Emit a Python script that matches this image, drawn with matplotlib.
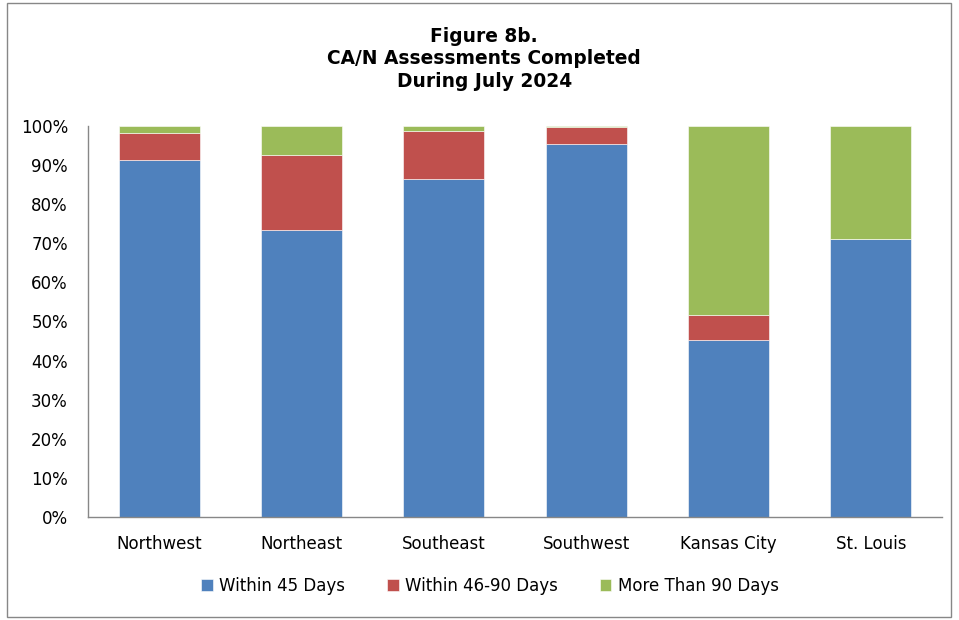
import matplotlib.pyplot as plt
import numpy as np
from matplotlib.patches import Rectangle

# percentages
regions = ['Northwest', 'Northeast', 'Southeast', 'Southwest', 'Kansas City', 'St. Louis']
within_45 = [91.3, 73.5, 86.4, 95.3, 45.2, 71.0]
within_46_90 = [6.9, 19.0, 12.3, 4.5, 6.5, 0.0]
over_90 = [1.8, 7.5, 1.3, 0.2, 48.3, 29.0]

series_names = ['Within 45 Days', 'Within 46-90 Days', 'More Than 90 Days']
colors = ['#4F81BD', '#C0504D', '#9BBB59']

plt.rcParams['font.family'] = ['DejaVu Sans']

fig = plt.figure(figsize=(9.59, 6.2), dpi=100)
ax = fig.add_axes([0.0918, 0.166, 0.8905, 0.631])

x = np.arange(len(regions))
bottom = np.zeros(len(regions))
for vals, name, c in zip([within_45, within_46_90, over_90], series_names, colors):
    ax.bar(x, vals, width=0.57, bottom=bottom, color=c, label=name,
           edgecolor='white', linewidth=0.4)
    bottom += np.array(vals)

ax.set_xlim(-0.5, len(regions) - 0.5)
ax.set_ylim(0, 100)
ax.set_yticks(np.arange(0, 101, 10))
ax.set_yticklabels(['%d%%' % v for v in range(0, 101, 10)], fontsize=12)
ax.set_xticks(x)
ax.set_xticklabels(regions, fontsize=12)
ax.tick_params(axis='both', length=0)
ax.tick_params(axis='x', pad=13)
ax.tick_params(axis='y', pad=14.5)

for side in ['top', 'right']:
    ax.spines[side].set_visible(False)
for side in ['left', 'bottom']:
    ax.spines[side].set_color('#878787')
    ax.spines[side].set_linewidth(1.0)

fig.text(0.505, 0.905, 'Figure 8b.\nCA/N Assessments Completed\nDuring July 2024',
         ha='center', va='center', fontsize=13.4, fontweight='bold', linespacing=1.25)

fig.legend(loc='center', bbox_to_anchor=(0.511, 0.055), ncol=3, frameon=False,
           fontsize=12, handlelength=0.7, handleheight=0.7, handletextpad=0.4,
           columnspacing=2.5)

fig.patches.append(Rectangle((0.007, 0.005), 0.985, 0.99, transform=fig.transFigure,
                             fill=False, edgecolor='#878787', linewidth=1.0))

fig.savefig('out.png', dpi=100)
